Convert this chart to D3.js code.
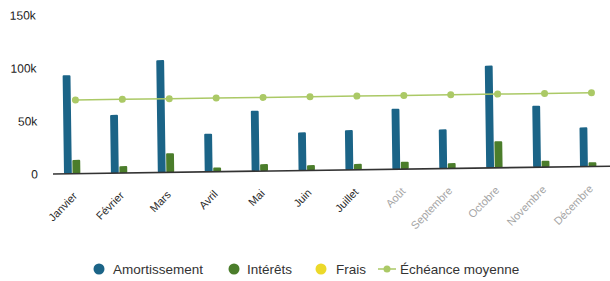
<!DOCTYPE html>
<html>
<head>
<meta charset="utf-8">
<script src="https://cdn.jsdelivr.net/npm/d3@7"></script>
<style>
  body { margin: 0; background: #fff; }
  svg { display: block; font-family: "Liberation Sans", Arial, sans-serif; }
</style>
</head>
<body>
<svg id="chart" width="610" height="281"></svg>
<script>
const months = ['Janvier', 'Février', 'Mars', 'Avril', 'Mai', 'Juin', 'Juillet', 'Août', 'Septembre', 'Octobre', 'Novembre', 'Décembre'];
const amortissement = [93000, 55000, 106000, 36000, 57000, 36000, 37500, 57000, 37000, 96500, 58000, 37000];
const interets = [13000, 6500, 18000, 4000, 6500, 5000, 5500, 7000, 5000, 25000, 6000, 4000];
const frais = [0, 0, 0, 0, 0, 0, 0, 0, 0, 0, 0, 0];
const echeance = [69500, 69500, 69500, 69500, 69500, 69500, 69500, 69500, 69500, 69500, 69500, 69500];
const yTicks = [0, 50000, 100000, 150000];

const series = [
	{ name: 'Amortissement', values: amortissement, color: '#1b6487' },
	{ name: 'Intérêts', values: interets, color: '#4b7d2b' },
	{ name: 'Frais', values: frais, color: '#ecd92a' }
];
const lineColor = '#abc966';

const svg = d3.select('#chart');
// the reference is a slightly tilted scan
const plot = svg.append('g').attr('transform', 'rotate(-0.8, 53, 174)');

const x = d3.scaleBand().domain(months).range([53, 616]).paddingInner(0.44).paddingOuter(0.22);
const xSub = d3.scaleBand().domain(series.map(s => s.name)).range([0, x.bandwidth()]).padding(0.08);
const y = d3.scaleLinear().domain([0, 150000]).range([174, 15]);

// y labels
plot.selectAll('text.ytick')
	.data(yTicks)
	.enter()
	.append('text')
	.attr('class', 'ytick')
	.attr('x', 38)
	.attr('y', d => y(d))
	.attr('dy', '0.35em')
	.attr('text-anchor', 'end')
	.attr('font-size', 12)
	.attr('fill', '#222')
	.text(d => d === 0 ? '0' : `${d / 1000}k`);

// bars
const groups = plot.selectAll('g.month')
	.data(months)
	.enter()
	.append('g')
	.attr('class', 'month')
	.attr('transform', d => `translate(${x(d)}, 0)`);

series.forEach(s => {
	groups.append('rect')
		.attr('x', xSub(s.name))
		.attr('width', xSub.bandwidth())
		.attr('y', (d, i) => y(s.values[i]))
		.attr('height', (d, i) => y(0) - y(s.values[i]))
		.attr('rx', 1)
		.attr('fill', s.color);
});

// baseline
plot.append('line')
	.attr('x1', 53)
	.attr('x2', 640)
	.attr('y1', y(0))
	.attr('y2', y(0))
	.attr('stroke', '#333')
	.attr('stroke-width', 1.6);

// échéance moyenne line
const line = d3.line()
	.x((d, i) => x(months[i]) + x.bandwidth() / 2)
	.y(d => y(d));

plot.append('path')
	.datum(echeance)
	.attr('d', line)
	.attr('fill', 'none')
	.attr('stroke', lineColor)
	.attr('stroke-width', 1.5);

plot.selectAll('circle.pt')
	.data(echeance)
	.enter()
	.append('circle')
	.attr('class', 'pt')
	.attr('cx', (d, i) => x(months[i]) + x.bandwidth() / 2)
	.attr('cy', d => y(d))
	.attr('r', 3.5)
	.attr('fill', lineColor);

// x labels
plot.selectAll('text.xtick')
	.data(months)
	.enter()
	.append('text')
	.attr('class', 'xtick')
	.attr('text-anchor', 'end')
	.attr('font-size', 11)
	.attr('fill', (d, i) => i < 7 ? '#2a2a2a' : '#a5a5a5')
	.attr('transform', d => `translate(${x(d) + x.bandwidth() / 2 + 1}, ${y(0) + 23}) rotate(-45)`)
	.text(d => d);

// legend
const legendItems = [
	{ name: 'Amortissement', color: series[0].color, cx: 99, tx: 113, type: 'dot' },
	{ name: 'Intérêts', color: series[1].color, cx: 234, tx: 247, type: 'dot' },
	{ name: 'Frais', color: series[2].color, cx: 321, tx: 336, type: 'dot' },
	{ name: 'Échéance moyenne', color: lineColor, cx: 387, tx: 400, type: 'line' }
];

const legend = svg.append('g');
const li = legend.selectAll('g')
	.data(legendItems)
	.enter()
	.append('g');

li.filter(d => d.type === 'line')
	.append('line')
	.attr('x1', d => d.cx - 9)
	.attr('x2', d => d.cx + 9)
	.attr('y1', 269)
	.attr('y2', 269)
	.attr('stroke', d => d.color)
	.attr('stroke-width', 1.5);

li.append('circle')
	.attr('cx', d => d.cx)
	.attr('cy', 269)
	.attr('r', d => d.type === 'line' ? 3.5 : 5.5)
	.attr('fill', d => d.color);

li.append('text')
	.attr('x', d => d.tx)
	.attr('y', 269)
	.attr('dy', '0.35em')
	.attr('font-size', 13.5)
	.attr('fill', '#333')
	.text(d => d.name);
</script>
</body>
</html>
